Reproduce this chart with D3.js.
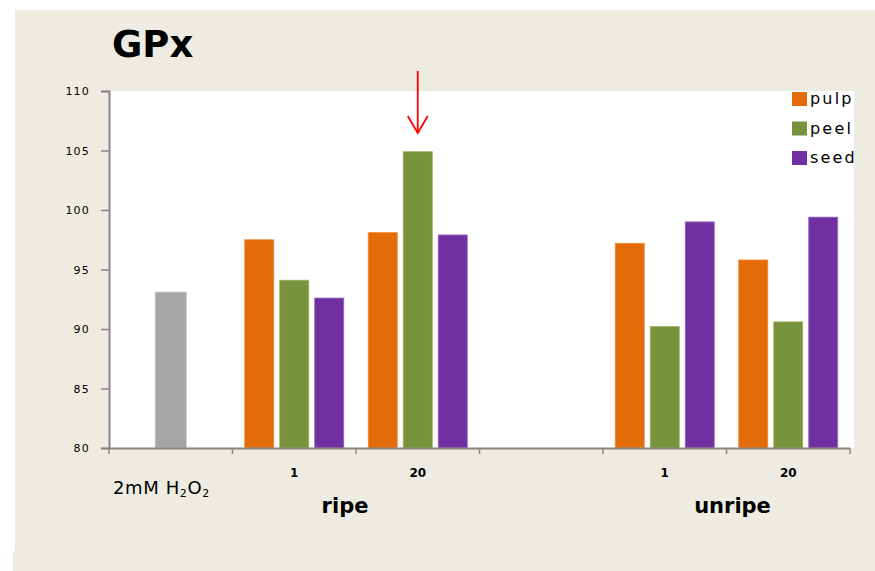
<!DOCTYPE html>
<html><head><meta charset="utf-8">
<script src="https://cdn.jsdelivr.net/npm/d3@7"></script>
<style>body{margin:0;background:#fff}svg{display:block}</style>
</head><body>
<svg id="c" width="875" height="571"></svg>
<script>
const categories = ["control", "ripe 1", "ripe 20", "blank", "unripe 1", "unripe 20"];
const tickLabels = ["", "1", "20", "", "1", "20"];
const series = ["pulp", "peel", "seed"];
const control = [93.1, null, null, null, null, null];
const pulp = [null, 97.5, 98.1, null, 97.2, 95.8];
const peel = [null, 94.1, 104.9, null, 90.2, 90.6];
const seed = [null, 92.6, 97.9, null, 99.0, 99.4];
const yTicks = [80, 85, 90, 95, 100, 105, 110];
const colors = {pulp: "#E36C09", peel: "#77933C", seed: "#7030A0", control: "#A6A6A6"};
const strokes = {pulp: "#F08A3A", peel: "#9AB25E", seed: "#9466BE", control: "#C0C0C0"};

const svg = d3.select("#c");
const bg = "#EEECE2";
svg.append("rect").attr("x", 15).attr("y", 10).attr("width", 860).attr("height", 542).attr("fill", bg);
svg.append("rect").attr("x", 13).attr("y", 551).attr("width", 862).attr("height", 20).attr("fill", bg);

const pLeft = 109, pRight = 850, pTop = 91, pBottom = 448;
svg.append("rect").attr("x", pLeft).attr("y", pTop).attr("width", 854 - pLeft).attr("height", pBottom - pTop).attr("fill", "#fff");

const x0 = d3.scaleBand().domain(categories).range([pLeft, pRight]);
const x1 = d3.scaleBand().domain(series).range([0, x0.bandwidth()]).paddingInner(0.171).paddingOuter(0.35);
const y = d3.scaleLinear().domain([80, 110]).range([pBottom, pTop]);

const data = {pulp, peel, seed};
series.forEach(s => {
  svg.append("g").selectAll("rect").data(categories.map((c, i) => ({c, v: data[s][i]})).filter(d => d.v != null))
    .join("rect")
    .attr("x", d => x0(d.c) + x1(s))
    .attr("width", x1.bandwidth())
    .attr("y", d => y(d.v))
    .attr("height", d => y(80) - y(d.v))
    .attr("fill", colors[s])
    .attr("stroke", strokes[s]).attr("stroke-width", 0.8);
});
svg.append("g").selectAll("rect").data(categories.map((c, i) => ({c, v: control[i]})).filter(d => d.v != null))
  .join("rect")
  .attr("x", d => x0(d.c) + x0.bandwidth() / 2 - (x1.bandwidth() + 2) / 2)
  .attr("width", x1.bandwidth() + 2)
  .attr("y", d => y(d.v))
  .attr("height", d => y(80) - y(d.v))
  .attr("fill", colors.control)
  .attr("stroke", strokes.control).attr("stroke-width", 0.8);

// Y axis
const yAxis = svg.append("g").attr("transform", `translate(${pLeft},0)`)
  .call(d3.axisLeft(y).tickValues(yTicks).tickSize(8).tickPadding(11));
yAxis.select(".domain").attr("stroke", "#868686").attr("stroke-width", 2);
yAxis.selectAll(".tick line").attr("stroke", "#868686").attr("stroke-width", 1.5);
yAxis.selectAll(".tick text").attr("font-family", "DejaVu Sans").attr("font-size", 11).attr("fill", "#000").attr("letter-spacing", 1.2);

// X axis with boundary ticks
const bounds = categories.map(c => x0(c)).concat([pRight]);
svg.append("line").attr("x1", pLeft).attr("x2", pRight).attr("y1", pBottom + 0.5).attr("y2", pBottom + 0.5).attr("stroke", "#868686").attr("stroke-width", 2);
svg.append("g").selectAll("line").data(bounds).join("line")
  .attr("x1", d => d).attr("x2", d => d).attr("y1", pBottom).attr("y2", pBottom + 6)
  .attr("stroke", "#868686").attr("stroke-width", 1.5);
svg.append("g").selectAll("text").data(categories.map((c, i) => ({c, t: tickLabels[i]}))).join("text")
  .attr("x", d => x0(d.c) + x0.bandwidth() / 2).attr("y", 477)
  .attr("text-anchor", "middle").attr("font-family", "DejaVu Sans").attr("font-size", 12).attr("font-weight", "bold")
  .attr("fill", "#000").text(d => d.t);

// Control label
const ctl = svg.append("text").attr("x", 113).attr("y", 494).attr("font-family", "DejaVu Sans").attr("font-size", 18).attr("letter-spacing", 0.6).attr("fill", "#000");
ctl.append("tspan").text("2mM H");
ctl.append("tspan").attr("font-size", 11).attr("dy", 3).text("2");
ctl.append("tspan").attr("dy", -3).text("O");
ctl.append("tspan").attr("font-size", 11).attr("dy", 3).text("2");

// Group labels
svg.append("text").attr("x", (x0("ripe 1") + x0("ripe 20") + x0.bandwidth()) / 2 - 11).attr("y", 513)
  .attr("text-anchor", "middle").attr("font-family", "DejaVu Sans").attr("font-weight", "bold").attr("font-size", 21).text("ripe");
svg.append("text").attr("x", (x0("unripe 1") + x0("unripe 20") + x0.bandwidth()) / 2 + 6).attr("y", 513)
  .attr("text-anchor", "middle").attr("font-family", "DejaVu Sans").attr("font-weight", "bold").attr("font-size", 21).text("unripe");

// Title
svg.append("text").attr("x", 112).attr("y", 57).attr("font-family", "DejaVu Sans").attr("font-weight", "bold").attr("font-size", 37).attr("fill", "#000").text("GPx");

// Legend
const lg = svg.append("g").attr("transform", "translate(792,92)");
series.forEach((s, i) => {
  const g = lg.append("g").attr("transform", `translate(0,${i * 29.5})`);
  g.append("rect").attr("width", 15).attr("height", 14).attr("fill", colors[s]);
  g.append("text").attr("x", 18).attr("y", 12).attr("font-family", "DejaVu Sans").attr("font-size", 16).attr("letter-spacing", 2.2).attr("fill", "#000").text(s);
});

// Arrow
const ax = x0("ripe 20") + x1("peel") + x1.bandwidth() / 2;
svg.append("line").attr("x1", ax).attr("x2", ax).attr("y1", 71).attr("y2", 133).attr("stroke", "#FF0000").attr("stroke-width", 1.8);
svg.append("path").attr("d", `M${ax - 10},${116} L${ax},${133} L${ax + 10},${116}`).attr("fill", "none").attr("stroke", "#FF0000").attr("stroke-width", 1.8);
</script>
</body></html>
